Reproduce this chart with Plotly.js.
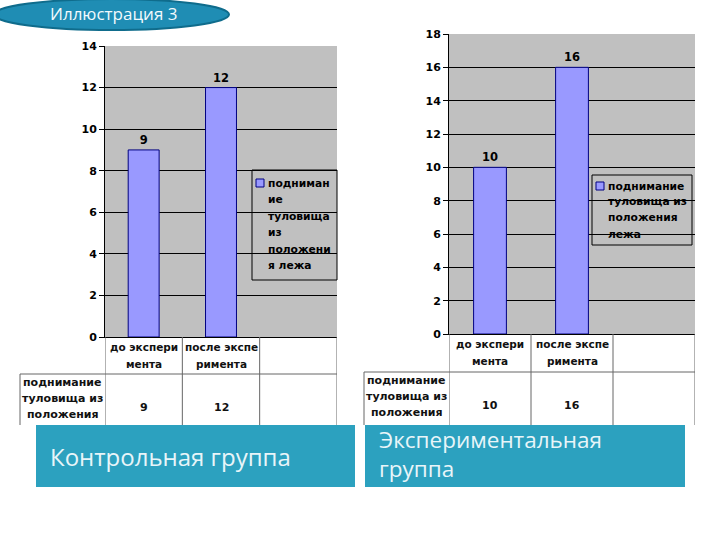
<!DOCTYPE html>
<html>
<head>
<meta charset="utf-8">
<script src="https://cdn.plot.ly/plotly-3.0.1.min.js"></script>
<style>
  html, body { margin: 0; padding: 0; background: #fff; }
  #plot { width: 720px; height: 540px; }
</style>
</head>
<body>
<div id="plot"></div>
<script>
// data
const categories = ['до экспери<br>мента', 'после экспе<br>римента', ''];
const controlValues = [9, 12];
const experimentValues = [10, 16];
const rowLabel = 'поднимание<br>туловища из<br>положения';
const leftLegendName = 'подниман<br>ие<br>туловища<br>из<br>положени<br>я лежа';
const rightLegendName = 'поднимание<br>туловища из<br>положения<br>лежа';
const panelTitles = ['Контрольная группа', 'Экспериментальная<br>группа'];
const slideTitle = 'Иллюстрация 3';

// pixel -> paper helpers (layout has no margins)
const W = 720, H = 540;
function px(x) { return x / W; }
function py(y) { return 1 - y / H; }

const tickFont = { family: 'DejaVu Sans', size: 11, color: '#000', weight: 'bold' };
const labelFont = { family: 'DejaVu Sans', size: 11.5, color: '#000', weight: 'bold' };
const headFont = { family: 'DejaVu Sans', size: 10.5, color: '#111', weight: 'bold' };
const cellFont = { family: 'DejaVu Sans', size: 11, color: '#111', weight: 'bold' };
const legendFont = { family: 'DejaVu Sans', size: 10.7, color: '#000', weight: 'bold' };
const gridColor = '#000';
const tableColor = '#666';
const barColor = '#9999FF';
const barEdge = '#000080';

const traces = [
  {
    x: [0, 1], y: controlValues,
    type: 'bar', width: 0.4,
    name: leftLegendName,
    xaxis: 'x', yaxis: 'y',
    marker: { color: barColor, line: { color: barEdge, width: 1 } },
    text: controlValues.map(String),
    textposition: 'outside',
    textfont: labelFont,
    cliponaxis: false,
    hoverinfo: 'skip',
  },
  {
    x: [0, 1], y: experimentValues,
    type: 'bar', width: 0.4,
    name: rightLegendName,
    xaxis: 'x2', yaxis: 'y2',
    marker: { color: barColor, line: { color: barEdge, width: 1 } },
    text: experimentValues.map(String),
    textposition: 'outside',
    textfont: labelFont,
    cliponaxis: false,
    hoverinfo: 'skip',
  },
];

// panel geometry in pixels
const panels = [
  { xa: 'x', plot: [105, 337, 46, 337], labelLeft: 20, rowTop: 374, box: [36, 355, 425, 487],
    values: controlValues, legendName: leftLegendName, legendStep: 16.5,
    legendBox: [252, 337, 170, 280], legendSq: [256, 264, 179, 187] },
  { xa: 'x2', plot: [449, 695, 34, 334], labelLeft: 364, rowTop: 372, box: [365, 685, 425, 487],
    values: experimentValues, legendName: rightLegendName, legendStep: 16,
    legendBox: [592, 692, 175, 245], legendSq: [596, 604, 182, 190] },
];

let shapes = [];
let annotations = [];

function note(x, y, text, font, extra) {
  return Object.assign({
    xref: 'paper', yref: 'paper', x: x, y: y, text: text, showarrow: false,
    xanchor: 'center', yanchor: 'middle', font: font,
  }, extra || {});
}

// one annotation per line so the line spacing can follow the picture
function lines(x, yFirst, step, text, font, extra) {
  text.split('<br>').forEach(function (t, i) {
    annotations.push(note(x, py(yFirst + i * step), t, font, extra));
  });
}

// title ellipse
shapes.push({
  type: 'circle', xref: 'paper', yref: 'paper',
  x0: px(-6), x1: px(229), y0: py(30), y1: py(-1),
  fillcolor: '#1F8DB4', line: { color: '#0F6C8C', width: 2 },
});
annotations.push(note(px(113), py(14), slideTitle,
  { family: 'Open Sans', size: 17, color: '#F2FAFD' }));

panels.forEach(function (p) {
  const bottom = p.plot[3];
  const tableBottom = 425;
  // vertical cell lines at category borders
  for (let i = 0; i <= categories.length; i++) {
    shapes.push({
      type: 'line', xref: p.xa, yref: 'paper',
      x0: i - 0.5, x1: i - 0.5, y0: py(bottom), y1: py(tableBottom),
      line: { color: tableColor, width: 1 },
    });
  }
  // row label column
  shapes.push({
    type: 'line', xref: 'paper', yref: 'paper',
    x0: px(p.labelLeft), x1: px(p.plot[1]), y0: py(p.rowTop), y1: py(p.rowTop),
    line: { color: tableColor, width: 1 },
  });
  shapes.push({
    type: 'line', xref: 'paper', yref: 'paper',
    x0: px(p.labelLeft), x1: px(p.labelLeft), y0: py(p.rowTop), y1: py(tableBottom),
    line: { color: tableColor, width: 1 },
  });
  // category header text
  categories.forEach(function (c, i) {
    if (c === '') return;
    c.split('<br>').forEach(function (t, j) {
      annotations.push(note(i, py(bottom + 10 + j * 17), t, headFont, { xref: p.xa }));
    });
  });
  // data row
  lines(px((p.labelLeft + p.plot[0]) / 2), p.rowTop + 8, 16, rowLabel, cellFont);
  p.values.forEach(function (v, i) {
    annotations.push(note(i, py(p.rowTop + 33), String(v), cellFont, { xref: p.xa }));
  });
  // legend (transparent box, grid shows through)
  shapes.push({
    type: 'rect', xref: 'paper', yref: 'paper', layer: 'above',
    x0: px(p.legendBox[0]), x1: px(p.legendBox[1]), y0: py(p.legendBox[3]), y1: py(p.legendBox[2]),
    line: { color: '#000', width: 1 }, fillcolor: 'rgba(0,0,0,0)',
  });
  shapes.push({
    type: 'rect', xref: 'paper', yref: 'paper', layer: 'above',
    x0: px(p.legendSq[0]), x1: px(p.legendSq[1]), y0: py(p.legendSq[3]), y1: py(p.legendSq[2]),
    line: { color: barEdge, width: 1 }, fillcolor: barColor,
  });
  lines(px(p.legendSq[1] + 2), (p.legendSq[2] + p.legendSq[3]) / 2, p.legendStep,
    p.legendName, legendFont, { xanchor: 'left' });
  // teal caption boxes
  shapes.push({
    type: 'rect', xref: 'paper', yref: 'paper', layer: 'above',
    x0: px(p.box[0]), x1: px(p.box[1]), y0: py(p.box[3]), y1: py(p.box[2]),
    fillcolor: '#2CA1BF', line: { width: 0 },
  });
});

annotations.push(note(px(48), py(456), panelTitles[0],
  { family: 'Open Sans', size: 24, color: '#E8F5F9' }, { xanchor: 'left' }));
annotations.push(note(px(377), py(454), panelTitles[1],
  { family: 'Open Sans', size: 22.5, color: '#E8F5F9' }, { xanchor: 'left', align: 'left' }));

function yAxis(maxV, anchor, dom) {
  return {
    domain: dom, anchor: anchor,
    range: [0, maxV], dtick: 2, tick0: 0,
    showgrid: true, gridcolor: gridColor, gridwidth: 1,
    zeroline: false, showline: true, linecolor: '#000', linewidth: 1,
    ticks: 'outside', ticklen: 5, tickcolor: '#000',
    tickfont: tickFont, fixedrange: true,
  };
}
function xAxis(anchor, dom) {
  return {
    domain: dom, anchor: anchor,
    range: [-0.5, 2.5], showticklabels: false, showgrid: false,
    zeroline: false, showline: true, linecolor: '#000', linewidth: 1, ticks: '',
    fixedrange: true,
  };
}

const layout = {
  width: W, height: H,
  margin: { l: 0, r: 0, t: 0, b: 0 },
  paper_bgcolor: '#fff',
  plot_bgcolor: '#C0C0C0',
  showlegend: false,
  bargap: 0,
  xaxis: xAxis('y', [px(105), px(337)]),
  yaxis: yAxis(14, 'x', [py(337), py(46)]),
  xaxis2: xAxis('y2', [px(449), px(695)]),
  yaxis2: yAxis(18, 'x2', [py(334), py(34)]),
  shapes: shapes,
  annotations: annotations,
};

Plotly.newPlot('plot', traces, layout, { staticPlot: true, displayModeBar: false });
</script>
</body>
</html>
